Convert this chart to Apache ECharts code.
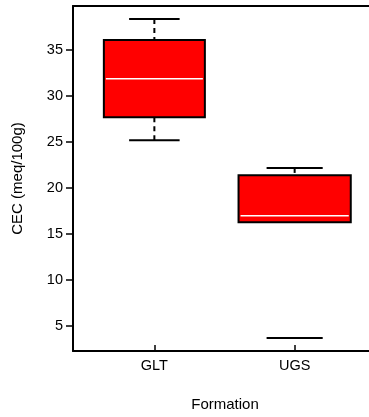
<!DOCTYPE html>
<html>
<head>
<meta charset="utf-8">
<script src="https://cdn.jsdelivr.net/npm/echarts@6/dist/echarts.min.js"></script>
<style>
  html, body { margin: 0; padding: 0; background: #fff; }
  #chart { width: 369px; height: 417px; }
</style>
</head>
<body>
<div id="chart"></div>
<script>
// Cation exchange capacity by formation
const categories = ['GLT', 'UGS'];
const whiskerLow  = [25.2, 3.7];
const quartile1   = [27.7, 16.3];
const medians     = [31.9, 17.0];
const quartile3   = [36.1, 21.4];
const whiskerHigh = [38.4, 22.2];
const yTicks = [5, 10, 15, 20, 25, 30, 35];

// Box widths in category units (one per formation)
const boxWidths = [0.72, 0.80];
// Whether each lower whisker has its dashed stem drawn
const lowerStem = [true, false];

const FONT = '"Liberation Sans", Arial, sans-serif';
const AXIS_LINE = { show: true, lineStyle: { color: '#000', width: 2 } };

const rows = categories.map((c, i) => [i + 1, whiskerLow[i], quartile1[i], medians[i], quartile3[i], whiskerHigh[i]]);

function renderItem(params, api) {
  const i = params.dataIndex;
  const x = api.value(0);
  const hw = boxWidths[i] / 2;
  const cw = hw / 2;
  const lo = api.value(1), q1 = api.value(2), md = api.value(3), q3 = api.value(4), hi = api.value(5);
  const tl = api.coord([x - hw, q3]);
  const br = api.coord([x + hw, q1]);
  const c = api.coord([x, md]);
  const mL = api.coord([x - hw, md]);
  const mR = api.coord([x + hw, md]);
  const pHi = api.coord([x, hi]);
  const pLo = api.coord([x, lo]);
  const pQ3 = api.coord([x, q3]);
  const pQ1 = api.coord([x, q1]);
  const capHL = api.coord([x - cw, hi]), capHR = api.coord([x + cw, hi]);
  const capLL = api.coord([x - cw, lo]), capLR = api.coord([x + cw, lo]);
  const whiskerStyle = { stroke: '#000', lineWidth: 2, lineDash: [5, 4], fill: null };
  const capStyle = { stroke: '#000', lineWidth: 2 };
  const children = [
    { type: 'line', shape: { x1: pHi[0], y1: pHi[1], x2: pQ3[0], y2: pQ3[1] }, style: whiskerStyle },
    { type: 'line', shape: { x1: capHL[0], y1: capHL[1], x2: capHR[0], y2: capHR[1] }, style: capStyle },
    { type: 'line', shape: { x1: capLL[0], y1: capLL[1], x2: capLR[0], y2: capLR[1] }, style: capStyle },
    { type: 'rect', shape: { x: tl[0], y: tl[1], width: br[0] - tl[0], height: br[1] - tl[1] },
      style: { fill: '#ff0000', stroke: '#000', lineWidth: 2 } },
    { type: 'line', shape: { x1: mL[0] + 2, y1: c[1], x2: mR[0] - 2, y2: c[1] },
      style: { stroke: '#fff', lineWidth: 1.5 } }
  ];
  if (lowerStem[i]) {
    children.unshift({ type: 'line', shape: { x1: pLo[0], y1: pLo[1], x2: pQ1[0], y2: pQ1[1] }, style: whiskerStyle });
  }
  return { type: 'group', children };
}

const chart = echarts.init(document.getElementById('chart'), null, { renderer: 'canvas' });
chart.setOption({
  animation: false,
  backgroundColor: '#fff',
  grid: { left: 73, right: 0, top: 6, bottom: 66 },
  xAxis: [{
    type: 'value', min: 0.42, max: 2.53,
    name: 'Formation', nameLocation: 'middle', nameGap: 46,
    nameTextStyle: { fontFamily: FONT, fontSize: 15, color: '#000', padding: [0, 0, 0, 8] },
    axisLine: AXIS_LINE,
    splitLine: { show: false },
    axisTick: { show: true, inside: true, length: 6, customValues: [1, 2], lineStyle: { color: '#000', width: 1.5 } },
    axisLabel: {
      customValues: [1, 2], margin: 7,
      fontFamily: FONT, fontSize: 14.5, color: '#000',
      formatter: v => categories[Math.round(v) - 1] || ''
    }
  }, {
    // top frame line
    type: 'value', position: 'top', min: 0.42, max: 2.53,
    axisLine: AXIS_LINE,
    axisTick: { show: false }, axisLabel: { show: false }, splitLine: { show: false }
  }],
  yAxis: {
    type: 'value', min: 2.3, max: 39.8,
    name: 'CEC (meq/100g)', nameLocation: 'middle', nameGap: 48,
    nameTextStyle: { fontFamily: FONT, fontSize: 15, color: '#000' },
    axisLine: AXIS_LINE,
    splitLine: { show: false },
    axisTick: { show: true, length: 7, customValues: yTicks, lineStyle: { color: '#000', width: 1.5 } },
    axisLabel: {
      customValues: yTicks, margin: 10,
      fontFamily: FONT, fontSize: 14.5, color: '#000'
    }
  },
  series: [{
    type: 'custom',
    renderItem: renderItem,
    encode: { x: 0, y: [1, 2, 3, 4, 5] },
    data: rows,
    clip: false
  }]
});
</script>
</body>
</html>
